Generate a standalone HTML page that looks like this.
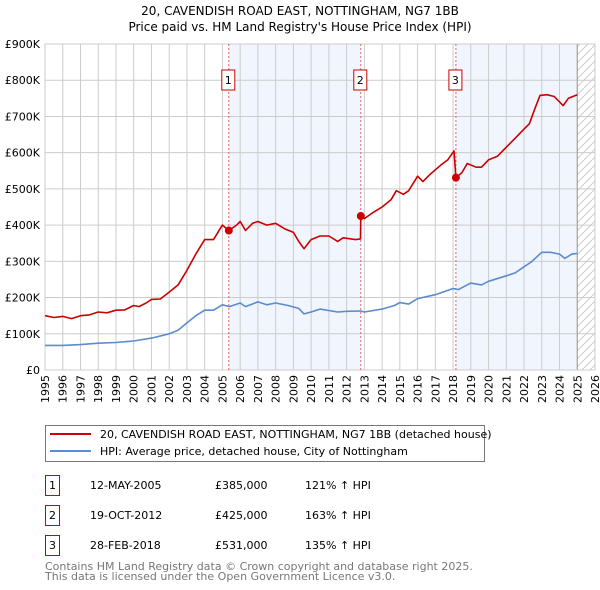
<!DOCTYPE html>
<html><head><meta charset="utf-8"><style>
body{margin:0;background:#fff;font-family:"Liberation Sans","DejaVu Sans",sans-serif;}
#wrap{position:relative;width:600px;height:590px;overflow:hidden;}
svg text{font-family:"DejaVu Sans","Liberation Sans",sans-serif;}
</style></head><body><div id="wrap">
<svg id="chart" width="600" height="590"></svg>
</div>
<script>
const redT=[1995,1995.5,1996,1996.5,1997,1997.5,1998,1998.5,1999,1999.5,2000,2000.3,2000.7,2001,2001.5,2002,2002.5,2003,2003.5,2004,2004.5,2005,2005.36,2005.8,2006,2006.3,2006.7,2007,2007.5,2008,2008.5,2009,2009.3,2009.6,2010,2010.5,2011,2011.5,2011.8,2012.5,2012.78,2012.8,2013,2013.5,2014,2014.5,2014.8,2015.2,2015.5,2016,2016.3,2016.7,2017.3,2017.7,2018.05,2018.16,2018.5,2018.8,2019.3,2019.6,2020,2020.5,2021,2021.5,2022,2022.3,2022.6,2022.9,2023.3,2023.7,2024.2,2024.5,2025];
const redV=[150,145,148,142,150,152,160,158,165,166,178,175,185,195,196,215,235,275,320,360,360,400,385,400,410,385,405,410,400,405,390,380,355,335,360,370,370,355,365,360,362,425,418,435,450,470,495,485,495,535,520,540,565,580,605,531,545,570,560,560,580,590,615,640,665,680,720,758,760,755,730,750,760];
const blueT=[1995,1996,1997,1998,1999,2000,2001,2002,2002.5,2003,2003.5,2004,2004.5,2005,2005.4,2006,2006.3,2007,2007.5,2008,2008.7,2009.3,2009.6,2010,2010.5,2011.5,2012,2012.8,2013,2014,2014.7,2015,2015.5,2016,2017,2018,2018.3,2019,2019.6,2020,2021,2021.5,2022,2022.4,2023,2023.5,2024,2024.3,2024.7,2025];
const blueV=[68,68,70,74,76,80,88,100,110,130,150,165,165,180,175,185,175,188,180,185,178,170,155,160,168,160,162,163,160,168,178,186,182,197,208,225,222,240,235,245,260,268,285,298,325,325,320,308,320,322];
const saleT=[2005.36,2012.8,2018.16];
const saleV=[385,425,531];
const saleLbl=["1","2","3"];
const yTicks=[0,100,200,300,400,500,600,700,800,900];
const yLabels=["£0","£100K","£200K","£300K","£400K","£500K","£600K","£700K","£800K","£900K"];
const xYears=[1995,1996,1997,1998,1999,2000,2001,2002,2003,2004,2005,2006,2007,2008,2009,2010,2011,2012,2013,2014,2015,2016,2017,2018,2019,2020,2021,2022,2023,2024,2025,2026];

const X0=45,X1=595,Y0=370,Y1=44;
const x=t=>X0+(t-1995)/(2026-1995)*(X1-X0);
const y=v=>Y0-v/900*(Y0-Y1);
const svg=document.getElementById('chart');
const NS='http://www.w3.org/2000/svg';
function mk(tag,attrs,parent){const e=document.createElementNS(NS,tag);for(const k in attrs)e.setAttribute(k,attrs[k]);(parent||svg).appendChild(e);return e;}

let t=mk('text',{x:300,y:15,'text-anchor':'middle','font-size':12});t.textContent='20, CAVENDISH ROAD EAST, NOTTINGHAM, NG7 1BB';


t=mk('text',{x:300,y:31,'text-anchor':'middle','font-size':12});t.textContent="Price paid vs. HM Land Registry's House Price Index (HPI)";



// shading
let s=mk('rect',{x:x(saleT[0]),y:Y1,width:x(saleT[1])-x(saleT[0]),height:Y0-Y1,fill:'#eef3fc',opacity:0.8});


s=mk('rect',{x:x(saleT[2]),y:Y1,width:x(2025)-x(saleT[2]),height:Y0-Y1,fill:'#eef3fc',opacity:0.8});


const defs=mk('defs',{});
const pat=mk('pattern',{id:'hatch',width:8,height:8,patternUnits:'userSpaceOnUse'},defs);
mk('path',{d:'M0,8 L8,0',stroke:'#ccc','stroke-width':1},pat);
s=mk('rect',{x:x(2025),y:Y1,width:X1-x(2025),height:Y0-Y1,fill:'url(#hatch)'});



// grid
yTicks.forEach((v,i)=>{
  mk('line',{x1:X0,x2:X1,y1:y(v),y2:y(v),stroke:'#cccccc','stroke-width':1});
  const l=mk('text',{x:40,y:y(v)+4,'text-anchor':'end','font-size':11});l.textContent=yLabels[i];
  
  
});
xYears.forEach(yr=>{
  mk('line',{x1:x(yr),x2:x(yr),y1:Y1,y2:Y0,stroke:'#cccccc','stroke-width':1});
  const l=mk('text',{x:0,y:0,'text-anchor':'end','font-size':11,transform:`translate(${x(yr)+4},${Y0+5}) rotate(-90)`});l.textContent=yr;
  
  
});
mk('line',{x1:x(2025),x2:x(2025),y1:Y1,y2:Y0,stroke:'#999','stroke-width':1});
mk('rect',{x:X0,y:Y1,width:X1-X0,height:Y0-Y1,fill:'none',stroke:'#cccccc'});

// sale markers vertical
saleT.forEach((st,i)=>{
  mk('line',{x1:x(st),x2:x(st),y1:Y1,y2:Y0,stroke:'#e06060','stroke-width':1,'stroke-dasharray':'2,2'});
  const bx=mk('rect',{x:x(st)-13,y:70,width:13,height:20,fill:'#fff',stroke:'#cc0000'});
  bx.setAttribute('x',x(st)-7);
  
  
  const tx=mk('text',{x:x(st)-0.5,y:84,'text-anchor':'middle','font-size':11});tx.textContent=saleLbl[i];
});

function line(T,V,color,name){
  const d=T.map((tt,i)=>(i?'L':'M')+x(tt).toFixed(1)+','+y(V[i]).toFixed(1)).join(' ');
  const p=mk('path',{d,fill:'none',stroke:color,'stroke-width':1.6,'stroke-linejoin':'round'});
  
  
}
line(blueT,blueV,'#5b8bd0','hpi-line');
line(redT,redV,'#cc0000','price-paid-line');
saleT.forEach((st,i)=>{
  const c=mk('circle',{cx:x(st),cy:y(saleV[i]),r:4,fill:'#cc0000'});
  
  
});

// legend
const lg=mk('rect',{x:45.5,y:425.5,width:439,height:36,fill:'#fff',stroke:'#777'});


mk('line',{x1:50,x2:91,y1:434,y2:434,stroke:'#cc0000','stroke-width':2});
mk('line',{x1:50,x2:91,y1:451,y2:451,stroke:'#5b8bd0','stroke-width':2});
t=mk('text',{x:100,y:438,'font-size':11});t.textContent='20, CAVENDISH ROAD EAST, NOTTINGHAM, NG7 1BB (detached house)';


t=mk('text',{x:100,y:455,'font-size':11});t.textContent='HPI: Average price, detached house, City of Nottingham';



// table
const dates=["12-MAY-2005","19-OCT-2012","28-FEB-2018"];
const prices=["£385,000","£425,000","£531,000"];
const pcts=["121% ↑ HPI","163% ↑ HPI","135% ↑ HPI"];
dates.forEach((d,i)=>{
  const yy=475+30*i;
  const r=mk('rect',{x:45.5,y:yy+0.5,width:14,height:20,fill:'#fff',stroke:'#cc0000'});
  
  
  let a=mk('text',{x:52.5,y:yy+14,'text-anchor':'middle','font-size':11});a.textContent=saleLbl[i];
  a=mk('text',{x:90,y:yy+14,'font-size':11});a.textContent=d;
  
  
  a=mk('text',{x:215,y:yy+14,'font-size':11});a.textContent=prices[i];
  
  
  a=mk('text',{x:305,y:yy+14,'font-size':11});a.textContent=pcts[i];
  
  
});
t=mk('text',{x:45,y:570,'font-size':11,fill:'#777'});t.textContent='Contains HM Land Registry data © Crown copyright and database right 2025.';


t=mk('text',{x:45,y:580,'font-size':11,fill:'#777'});t.textContent='This data is licensed under the Open Government Licence v3.0.';


</script></body></html>
